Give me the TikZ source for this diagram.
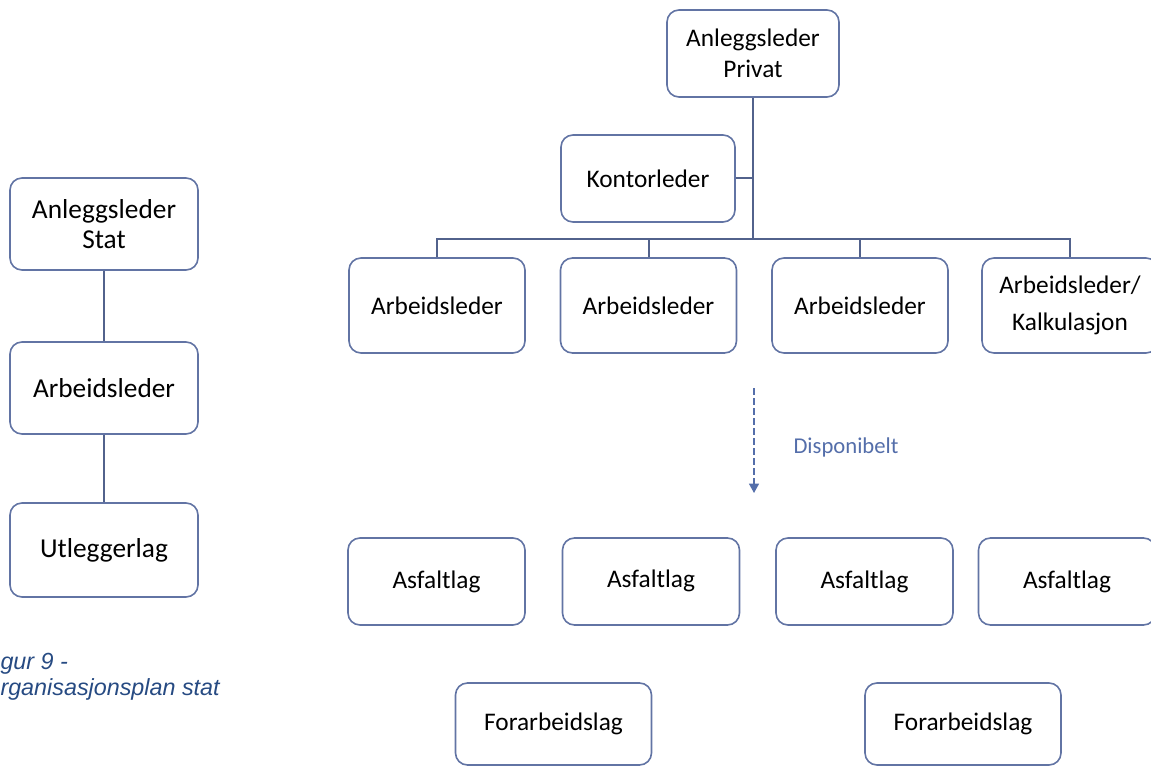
\documentclass[tikz,border=0pt]{standalone}
\usepackage{fontspec}
\setmainfont{Carlito}
\newfontfamily\capfont{Liberation Sans}
\usetikzlibrary{arrows.meta}

\definecolor{boxc}{RGB}{98,116,164}
\definecolor{linkc}{RGB}{82,98,140}
\definecolor{dispc}{RGB}{84,110,170}
\definecolor{capc}{RGB}{38,74,130}

\tikzset{
  every picture/.style={line width=0.75pt},
  orgbox/.style={draw=boxc, line width=1.2pt, rounded corners=9pt, align=center,
    inner sep=0pt, fill=white},
  statbox/.style={orgbox, minimum width=141pt, minimum height=69pt,
    font=\fontsize{20.5}{23}\selectfont},
  privbox/.style={orgbox, minimum width=132pt, minimum height=66pt,
    font=\fontsize{19}{23}\selectfont},
  lagbox/.style={orgbox, minimum width=132.75pt, minimum height=65.25pt,
    font=\fontsize{19}{23}\selectfont},
  forbox/.style={orgbox, minimum width=147pt, minimum height=61.5pt,
    font=\fontsize{19}{23}\selectfont},
  link/.style={draw=linkc, line width=1.5pt},
}

\begin{document}
\begin{tikzpicture}[x=0.75pt,y=0.75pt,yscale=-1,xscale=1]
\useasboundingbox (0,0) rectangle (1151,766);

% Organisasjonsplan stat
\node [statbox] (stat) at (104,224) {Anleggsleder\\Stat};
\node [statbox] (arbstat) at (104,388) {Arbeidsleder};
\node [statbox, minimum height=70.5pt] (utlegger) at (104,550) {Utleggerlag};
\draw [link] (stat) -- (arbstat);
\draw [link] (arbstat) -- (utlegger);

% Text Node
\node [anchor=west, inner sep=0pt, align=left, text=capc,
  font=\capfont\itshape\fontsize{17.5}{19.5}\selectfont] (figtxt) at (0,677)
  {gur 9 -\\rganisasjonsplan stat};

% Organisasjonsplan privat
\node [privbox, minimum width=129pt, minimum height=65.25pt] (privat) at (753,53.5)
  {Anleggsleder\\Privat};
\node [privbox, minimum width=130.5pt, minimum height=65.25pt] (kontor) at (648,178.5)
  {Kontorleder};
\node [privbox, minimum height=71.25pt] (arb1) at (437,305.5) {Arbeidsleder};
\node [privbox, minimum height=71.25pt] (arb2) at (648.5,305.5) {Arbeidsleder};
\node [privbox, minimum height=71.25pt] (arb3) at (860,305.5) {Arbeidsleder};
\node [privbox, minimum height=71.25pt, font=\fontsize{19}{27.75}\selectfont] (arb4)
  at (1070,305.5) {Arbeidsleder/\\Kalkulasjon};

\coordinate (bus) at (753,239);
\draw [link] (privat) -- (bus);
\draw [link] (kontor.east) -- (kontor.east -| bus);
\draw [link] (arb1.north) |- (bus) -| (arb4.north);
\draw [link] (arb2.north) -- (arb2.north |- bus);
\draw [link] (arb3.north) -- (arb3.north |- bus);

% Disponibelt
\coordinate (dtop) at (754,388);
\coordinate (dtip) at (754,493);
\draw [dispc, line width=0.9pt, dash pattern=on 5pt off 2.5pt,
  -{Triangle[length=7pt,width=7.5pt]}] (dtop) -- (dtip);
\node [text=dispc, font=\fontsize{17}{20}\selectfont, inner sep=0pt] (disp)
  at (846,447) {Disponibelt};

% Asfaltlag
\node [lagbox] (asf1) at (436.5,581.5) {Asfaltlag};
\node [lagbox] (asf2) at (651,581.5) {\raisebox{4pt}{Asfaltlag}};
\node [lagbox] (asf3) at (864.5,581.5) {Asfaltlag};
\node [lagbox] (asf4) at (1067,581.5) {\raisebox{2pt}{Asfaltlag}};

% Forarbeidslag
\node [forbox] (for1) at (553.5,724) {Forarbeidslag};
\node [forbox] (for2) at (963,724) {Forarbeidslag};

\end{tikzpicture}
\end{document}
